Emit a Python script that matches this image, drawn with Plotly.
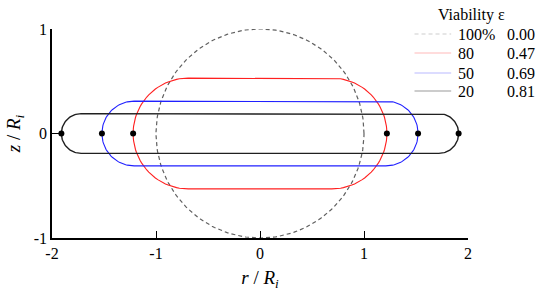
import numpy as np
import plotly.graph_objects as go

# Data
viability_labels = ["100%", "80", "50", "20"]
epsilon_labels = ["0.00", "0.47", "0.69", "0.81"]
x_ticks = [-2, -1, 0, 1, 2]
y_ticks = [-1, 0, 1]
colors = ["#606060", "#ff2020", "#2020ff", "#202020"]
half_width = [1.00, 1.22, 1.52, 1.91]   # r extent (r/Ri)
half_height = [1.00, 0.53, 0.31, 0.19]  # z extent (z/Ri)

FONT = "Times New Roman"

def stadium(R, h, n=60):
    c = R - h
    t1 = np.linspace(np.pi / 2, -np.pi / 2, n)
    right_r = c + h * np.cos(t1)
    right_z = h * np.sin(t1)
    t2 = np.linspace(-np.pi / 2, -3 * np.pi / 2, n)
    left_r = -c + h * np.cos(t2)
    left_z = h * np.sin(t2)
    r = np.concatenate([[-c], right_r, left_r, [-c]])
    z = np.concatenate([[h], right_z, left_z, [h]])
    return r.tolist(), z.tolist()

fig = go.Figure()

t = np.linspace(0, 2 * np.pi, 240)
fig.add_trace(go.Scatter(x=(half_width[0] * np.cos(t)).tolist(), y=(half_height[0] * np.sin(t)).tolist(),
                         mode="lines", line=dict(color=colors[0], width=1.2, dash="4px,3px"),
                         showlegend=False, hoverinfo="skip"))

for i in range(1, 4):
    r, z = stadium(half_width[i], half_height[i])
    fig.add_trace(go.Scatter(x=r, y=z, mode="lines",
                             line=dict(color=colors[i], width=1.4 if i == 3 else 1.1),
                             showlegend=False, hoverinfo="skip"))
    fig.add_trace(go.Scatter(x=[-half_width[i], half_width[i]], y=[0, 0], mode="markers",
                             marker=dict(color="black", size=6),
                             showlegend=False, hoverinfo="skip"))

W, H = 551, 299
ml, mr, mt, mb = 48, 83, 29, 61
pw, ph = W - ml - mr, H - mt - mb

def px_to_paper(xp, yp):
    return (xp - ml) / pw, 1 - (yp - mt) / ph

ax, ay = px_to_paper(472, 15)
fig.add_annotation(x=ax, y=ay, xref="paper", yref="paper", text="Viability ε",
                   showarrow=False, xanchor="center", yanchor="middle",
                   font=dict(family=FONT, size=16))
row_y = [34, 53, 73, 91]
for i in range(4):
    x0, y0 = px_to_paper(414, row_y[i])
    x1, _ = px_to_paper(451, row_y[i])
    fig.add_shape(type="line", xref="paper", yref="paper", x0=x0, x1=x1, y0=y0, y1=y0,
                  line=dict(color=colors[i], width=1.4 if i == 3 else 1.1,
                            dash="4px,3px" if i == 0 else "solid"))
    lx, _ = px_to_paper(456, row_y[i])
    fig.add_annotation(x=lx, y=y0, xref="paper", yref="paper", text=viability_labels[i],
                       showarrow=False, xanchor="left", yanchor="middle",
                       font=dict(family=FONT, size=16))
    ex, _ = px_to_paper(505, row_y[i])
    fig.add_annotation(x=ex, y=y0, xref="paper", yref="paper", text=epsilon_labels[i],
                       showarrow=False, xanchor="left", yanchor="middle",
                       font=dict(family=FONT, size=16))

fig.update_layout(
    template="simple_white",
    width=W, height=H,
    margin=dict(l=ml, r=mr, t=mt, b=mb),
    font=dict(family=FONT, size=16, color="black"),
    xaxis=dict(range=[-2, 2], tickvals=x_ticks, ticktext=[str(v) for v in x_ticks],
               ticks="inside", ticklen=7, tickcolor="black", showline=True, linecolor="black",
               linewidth=1.5, showgrid=False, zeroline=False,
               title=dict(text="<i>r</i> / <i>R<sub>i</sub></i>", standoff=10)),
    yaxis=dict(range=[-1, 1], tickvals=y_ticks, ticktext=[str(v) for v in y_ticks],
               ticks="inside", ticklen=7, tickcolor="black", showline=True, linecolor="black",
               linewidth=1.5, showgrid=False, zeroline=False,
               title=dict(text="<i>z</i> / <i>R<sub>i</sub></i>", standoff=8)),
)

fig.write_html("out.html")
